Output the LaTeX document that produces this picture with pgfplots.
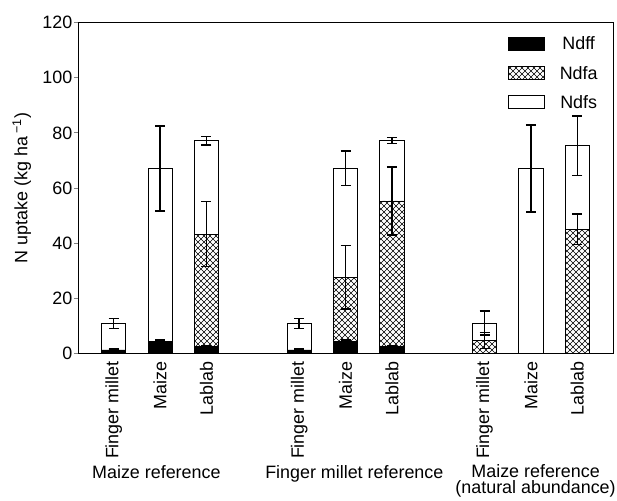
\documentclass[border=0pt]{standalone}
\usepackage{fontspec}
\setmainfont{Liberation Sans}
\usepackage{pgfplots}
\pgfplotsset{compat=1.18}
\usetikzlibrary{patterns.meta}
\tikzdeclarepattern{
  name=xhatch,
  type=uncolored,
  bounding box={(-0.5pt,-0.5pt) and (6.5pt,6.5pt)},
  tile size={(6pt,6pt)},
  code={\draw[line width=0.55pt] (0pt,0pt) -- (6pt,6pt) (0pt,6pt) -- (6pt,0pt);}
}
\newcommand\fsz{\fontsize{17.9}{21}\selectfont}
\begin{document}
\fsz
\begin{tikzpicture}[font=\fsz]
\begin{axis}[
  scale only axis, width=535pt, height=330.6pt,
  ybar stacked, bar width=0.52,
  xmin=-0.77, xmax=10.77, ymin=0, ymax=120,
  clip=false,
  font=\fsz,
  axis line style={line width=0.8pt},
  xtick={0,1,2,4,5,6,8,9,10},
  xticklabels={Finger millet,Maize,Lablab,Finger millet,Maize,Lablab,Finger millet,Maize,Lablab},
  xtick style={draw=none},
  x tick label style={rotate=90, anchor=east, inner sep=0pt},
  xticklabel shift=4pt,
  xtick pos=bottom, ytick pos=left,
  ytick={0,20,...,120},
  tick align=outside,
  major tick length=4pt,
  ytick style={line width=0.8pt},
  y tick label style={inner sep=1.5pt},
  /pgf/number format/assume math mode=true,
  ylabel={N uptake (kg ha\,\textsuperscript{−1})},
  ylabel style={at={(axis description cs:-0.105,0.5)}, anchor=center},
  legend style={draw=none, fill=none, at={(rel axis cs:0.8037,0.958)}, anchor=north west,
    inner sep=0pt, outer sep=0pt, row sep=13pt,
    nodes={inner sep=0pt, anchor=base},
    /tikz/every odd column/.append style={column sep=15pt}},
  legend cell align=left,
  legend image code/.code={\draw[#1, line width=0.8pt] (0pt,0pt) rectangle (36pt,13pt);},
  error bars/y dir=both, error bars/y explicit,
  error bars/error bar style={line width=1.4pt, black},
  error bars/error mark options={rotate=90, mark size=5pt, line width=1.4pt, black},
]
\addplot[fill=black, draw=black, line width=0.8pt] coordinates {
  (0,1.2) +- (0,0.3)
  (1,4.2) +- (0,0.6)
  (2,2.6) +- (0,0.3)
  (4,1.2) +- (0,0.3)
  (5,4.2) +- (0,0.6)
  (6,2.6) +- (0,0.3)
  (8,0) +- (0,0)
  (9,0) +- (0,0)
  (10,0) +- (0,0)
};
\addlegendentry{Ndff}
\addplot[fill=none, draw=black, line width=0.8pt, postaction={pattern=xhatch}] coordinates {
  (0,0) +- (0,0)
  (1,0) +- (0,0)
  (2,40.6) +- (0,11.8)
  (4,0) +- (0,0)
  (5,23.4) +- (0,11.5)
  (6,52.7) +- (0,12.3)
  (8,4.7) +- (0,2.9)
  (9,0) +- (0,0)
  (10,45.0) +- (0,5.6)
};
\addlegendentry{Ndfa}
\addplot[fill=none, draw=black, line width=0.8pt] coordinates {
  (0,9.6) +- (0,1.8)
  (1,62.9) +- (0,15.4)
  (2,34.0) +- (0,1.6)
  (4,9.6) +- (0,1.8)
  (5,39.5) +- (0,6.3)
  (6,21.9) +- (0,1.1)
  (8,6.3) +- (0,4.4)
  (9,67.1) +- (0,15.8)
  (10,30.4) +- (0,10.8)
};
\addlegendentry{Ndfs}
\coordinate (sw) at (rel axis cs:0,0);
\node[anchor=base, inner sep=0pt, font=\fsz] at ([yshift=-124.7pt]axis cs:0.92,0) {Maize reference};
\node[anchor=base, inner sep=0pt, font=\fsz] at ([yshift=-124.7pt]axis cs:5.19,0) {Finger millet reference};
\node[anchor=north, inner sep=0pt, align=center, font=\fontsize{17.9}{16}\selectfont] at ([yshift=-111.5pt]axis cs:9.1,0) {Maize reference\\(natural abundance)};
\end{axis}
\pgfresetboundingbox
\path[use as bounding box] ([shift={(-78pt,-146.7pt)}]sw) rectangle ([shift={(539pt,353.3pt)}]sw);
\end{tikzpicture}
\end{document}
